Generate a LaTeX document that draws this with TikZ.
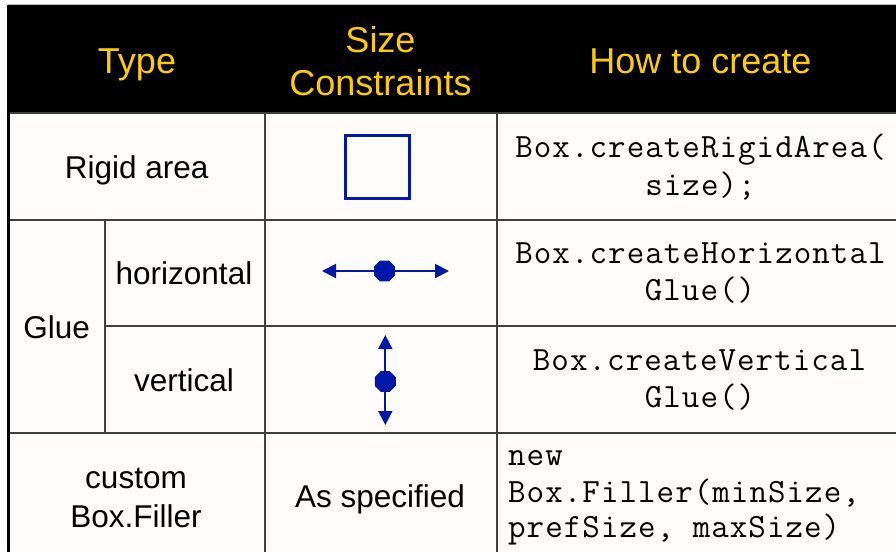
\documentclass[tikz,border=0pt]{standalone}
\usepackage{fontspec}
\setmainfont{Liberation Sans}
\setmonofont{Latin Modern Mono}[LetterSpace=3.1]
\usetikzlibrary{arrows.meta,shapes.geometric}
\definecolor{hdryellow}{RGB}{255,204,0}
\definecolor{glueblue}{RGB}{0,24,168}
\definecolor{gridgray}{RGB}{64,64,64}
\definecolor{bodybg}{RGB}{255,252,251}
\begin{document}
\begin{tikzpicture}[x=1pt,y=-1pt,
  hdr/.style={text=hdryellow,font=\fontsize{36}{40}\selectfont,anchor=base,inner sep=0pt},
  body/.style={text=black,font=\fontsize{31.5}{36}\selectfont,anchor=base,inner sep=0pt},
  code/.style={text=black,font=\ttfamily\fontsize{34}{38}\selectfont,anchor=base,inner sep=0pt},
  codeleft/.style={code,anchor=base west},
  gridline/.style={draw=gridgray,line width=2pt},
  gluearrow/.style={draw=glueblue,line width=2pt,-{Triangle[length=14pt,width=14pt]}},
  oct/.style={regular polygon,regular polygon sides=8,fill=glueblue,minimum size=22.7pt,inner sep=0pt}]
\useasboundingbox (0,0) rectangle (896,552);
\fill[white] (0,0) rectangle (896,552);
\fill[bodybg] (8,113) rectangle (896,552);
\fill[black] (8,5) rectangle (896,113);
\draw[gray!55,line width=1pt] (8,4.5) -- (896,4.5);

% grid
\draw[gridline] (8,113) -- (896,113);
\draw[gridline] (8,220) -- (896,220);
\draw[gridline] (105,326) -- (896,326);
\draw[gridline] (8,433) -- (896,433);
\draw[gridline] (105,220) -- (105,433);
\draw[gridline] (265,113) -- (265,552);
\draw[gridline] (497,113) -- (497,552);
\draw[black,line width=3pt] (8.5,5) -- (8.5,552);

% header
\node[hdr] (hType) at (137,73) {Type};
\node[hdr] (hSize) at (380.5,52) {Size};
\node[hdr] (hCons) at (380.5,95) {Constraints};
\node[hdr] (hHow) at (700.5,73) {How to create};

% type column
\node[body] (tRigid) at (136.7,178) {Rigid area};
\node[body] (tGlue) at (56.7,338) {Glue};
\node[body] (tHor) at (184,284) {horizontal};
\node[body] (tVer) at (184,391.5) {vertical};
\node[body] (tCustom) at (136,488) {custom};
\node[body] (tFiller) at (136,527) {Box.Filler};

% size constraints
\node[draw=glueblue,line width=3pt,minimum width=64pt,minimum height=63pt,inner sep=0pt] (sRigid) at (377.5,167) {};
\node[oct] (hOct) at (384.5,271) {};
\coordinate (hLeft) at (322,271);
\coordinate (hRight) at (449,271);
\draw[gluearrow] (hOct) -- (hLeft);
\draw[gluearrow] (hOct) -- (hRight);
\node[oct] (vOct) at (385.3,381.5) {};
\coordinate (vTop) at (385.3,335);
\coordinate (vBot) at (385.3,425);
\draw[gluearrow] (vOct) -- (vTop);
\draw[gluearrow] (vOct) -- (vBot);
\node[body] (sSpec) at (380,507) {As specified};

% how to create
\node[code] (cR1) at (700.5,157) {Box.createRigidArea(};
\node[code] (cR2) at (700.5,195) {size);};
\node[code] (cH1) at (700.5,263) {Box.createHorizontal};
\node[code] (cH2) at (700,300) {Glue()};
\node[code] (cV1) at (699.5,370) {Box.createVertical};
\node[code] (cV2) at (700,407) {Glue()};
\node[codeleft] (cF1) at (508,465) {new};
\node[codeleft] (cF2) at (508,502) {Box.Filler(minSize,};
\node[codeleft] (cF3) at (508,537) {prefSize, maxSize)};
\end{tikzpicture}
\end{document}
